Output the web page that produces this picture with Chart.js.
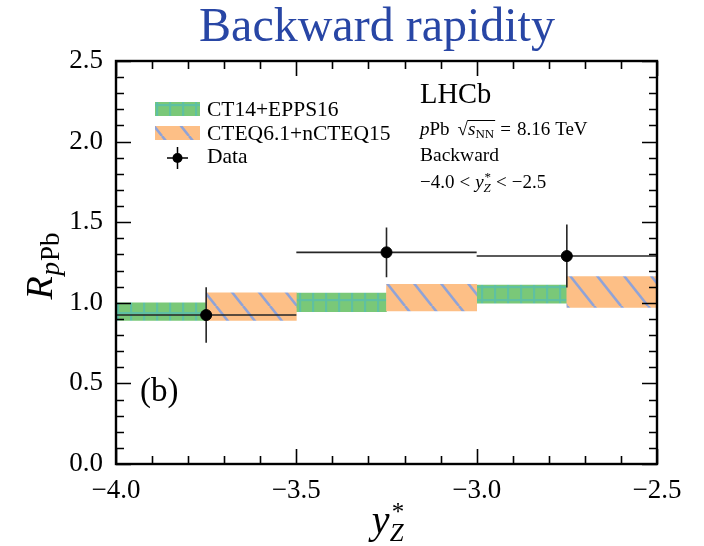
<!DOCTYPE html>
<html>
<head>
<meta charset="utf-8">
<script src="https://cdn.jsdelivr.net/npm/chart.js@4.4.1/dist/chart.umd.min.js"></script>
<style>
  html, body { margin: 0; padding: 0; background: #ffffff; }
  canvas { display: block; }
</style>
</head>
<body>
<canvas id="c" width="704" height="546"></canvas>
<script>
// ---------------- data ----------------
const xTickValues = [-4.0, -3.5, -3.0, -2.5];
const yTickValues = [0.0, 0.5, 1.0, 1.5, 2.0, 2.5];

// CT14+EPPS16 bands (first half of each bin)
const eppsX  = [-3.875, -3.375, -2.875];
const eppsLo = [0.89, 0.945, 0.997];
const eppsHi = [1.00, 1.06, 1.11];

// CTEQ6.1+nCTEQ15 bands (second half of each bin)
const ncteqX  = [-3.625, -3.125, -2.625];
const ncteqLo = [0.89, 0.95, 0.972];
const ncteqHi = [1.062, 1.115, 1.162];

// LHCb data
const dataX   = [-3.75, -3.25, -2.75];
const dataXLo = [-4.0, -3.5, -3.0];
const dataXHi = [-3.5, -3.0, -2.5];
const dataY   = [0.924, 1.313, 1.290];
const dataErr = [0.172, 0.154, 0.195];

// ---------------- styles ----------------
const SERIF = "'Liberation Serif', 'DejaVu Serif', serif";
const fnt = (size, italic) => (italic ? 'italic ' : '') + size + 'px ' + SERIF;

function makeGreenPattern() {
  const s = 13;
  const c = document.createElement('canvas');
  c.width = s; c.height = s;
  const g = c.getContext('2d');
  g.fillStyle = '#7ac878';
  g.fillRect(0, 0, s, s);
  g.fillStyle = '#5fc0a2';
  g.fillRect(0, 0, 2.2, s);
  g.fillRect(0, 0, s, 2.2);
  return g.createPattern(c, 'repeat');
}
function makeOrangePattern() {
  const w = 27, h = 34;
  const c = document.createElement('canvas');
  c.width = w; c.height = h;
  const g = c.getContext('2d');
  g.fillStyle = '#fdbf86';
  g.fillRect(0, 0, w, h);
  g.strokeStyle = '#8fa3d8';
  g.lineWidth = 2.6;
  for (const ox of [-w, 0, w]) {
    g.beginPath();
    g.moveTo(ox, 0);
    g.lineTo(ox + w, h);
    g.stroke();
  }
  return g.createPattern(c, 'repeat');
}
const greenPat = makeGreenPattern();
const orangePat = makeOrangePattern();

// ---------------- datasets ----------------
const eppsData = eppsX.map((x, i) => ({ x: x, y: [eppsLo[i], eppsHi[i]] }));
const ncteqData = ncteqX.map((x, i) => ({ x: x, y: [ncteqLo[i], ncteqHi[i]] }));
const pointData = dataX.map((x, i) => ({ x: x, y: dataY[i] }));
const errData = [];
dataX.forEach((x, i) => {
  errData.push({ x: dataXLo[i], y: dataY[i] });
  errData.push({ x: dataXHi[i], y: dataY[i] });
  errData.push({ x: dataXHi[i], y: null });
  errData.push({ x: x, y: dataY[i] - dataErr[i] });
  errData.push({ x: x, y: dataY[i] + dataErr[i] });
  errData.push({ x: x, y: null });
});

const fmt = v => (v < 0 ? '\u2212' : '') + Math.abs(v).toFixed(1);

// ---------------- text helper ----------------
function drawRuns(ctx, x, y, parts, align) {
  let total = 0;
  parts.forEach(p => {
    ctx.font = p.f;
    p.w = ctx.measureText(p.t).width + (p.dx || 0);
    if (!p.stack) total += p.w;
  });
  let cx = align === 'center' ? x - total / 2 : x;
  let prevStart = cx, prevW = 0;
  parts.forEach(p => {
    ctx.font = p.f;
    let px;
    if (p.stack) {
      px = prevStart;
      cx = prevStart + Math.max(prevW, p.w);
    } else {
      px = cx;
      prevStart = cx; prevW = p.w;
      cx += p.w;
    }
    ctx.fillText(p.t, px + (p.dx || 0), y + (p.dy || 0));
    p.x = px;
  });
  return parts;
}

// ---------------- decoration plugin ----------------
const decor = {
  id: 'decor',
  afterDraw(chart) {
    const ctx = chart.ctx;
    const xs = chart.scales.x, ys = chart.scales.y;
    const L = chart.chartArea.left, R = chart.chartArea.right;
    const T = chart.chartArea.top, B = chart.chartArea.bottom;
    ctx.save();

    // ticks (inward on all four sides)
    ctx.strokeStyle = '#000';
    ctx.lineWidth = 1.6;
    for (let k = 0; k <= 25; k++) {
      const v = k / 10;
      const py = Math.round(ys.getPixelForValue(v)) + 0.5;
      const len = (k % 5 === 0) ? 15 : 8;
      ctx.beginPath();
      ctx.moveTo(L, py); ctx.lineTo(L + len, py);
      ctx.moveTo(R, py); ctx.lineTo(R - len, py);
      ctx.stroke();
    }
    for (let k = -40; k <= -25; k++) {
      const v = k / 10;
      const px = Math.round(xs.getPixelForValue(v)) + 0.5;
      const len = (k % 5 === 0) ? 15 : 8;
      ctx.beginPath();
      ctx.moveTo(px, B); ctx.lineTo(px, B - len);
      ctx.moveTo(px, T); ctx.lineTo(px, T + len);
      ctx.stroke();
    }
    // frame
    ctx.lineWidth = 2.4;
    ctx.strokeRect(L, T, R - L, B - T);

    ctx.fillStyle = '#000';
    ctx.textBaseline = 'alphabetic';
    ctx.textAlign = 'left';

    // title
    ctx.fillStyle = '#2846a5';
    ctx.font = fnt(48);
    ctx.textAlign = 'center';
    ctx.fillText('Backward rapidity', 377, 41);
    ctx.textAlign = 'left';
    ctx.fillStyle = '#000';

    // y-axis title
    ctx.save();
    ctx.translate(52, 266);
    ctx.rotate(-Math.PI / 2);
    drawRuns(ctx, 0, 0, [
      { t: 'R', f: fnt(38, true) },
      { t: 'p', f: fnt(27, true), dy: 7, dx: 1 },
      { t: 'Pb', f: fnt(27), dy: 7, dx: 1 }
    ], 'center');
    ctx.restore();

    // x-axis title
    drawRuns(ctx, 388, 533, [
      { t: 'y', f: fnt(40, true) },
      { t: '*', f: fnt(25), dy: -13, dx: 2 },
      { t: 'Z', f: fnt(25, true), dy: 8, stack: true }
    ], 'center');

    // experiment labels
    ctx.font = fnt(28.5);
    ctx.fillText('LHCb', 420, 103);
    const p2 = drawRuns(ctx, 420, 135, [
      { t: 'p', f: fnt(19, true) },
      { t: 'Pb', f: fnt(19) },
      { t: '\u221A', f: fnt(19), dx: 8 },
      { t: 's', f: fnt(19, true) },
      { t: 'NN', f: fnt(13), dy: 3 },
      { t: '=', f: fnt(19), dx: 6 },
      { t: '8.16', f: fnt(19), dx: 6 },
      { t: 'TeV', f: fnt(19), dx: 5 }
    ], 'left');
    // overline of the square root
    ctx.lineWidth = 1;
    ctx.beginPath();
    ctx.moveTo(p2[2].x + p2[2].w - 0.5, 120.5);
    ctx.lineTo(p2[4].x + p2[4].w + 1, 120.5);
    ctx.stroke();
    ctx.font = fnt(19.5);
    ctx.fillText('Backward', 420, 161);
    drawRuns(ctx, 420, 188, [
      { t: '\u22124.0', f: fnt(19) },
      { t: '<', f: fnt(19), dx: 5 },
      { t: 'y', f: fnt(19, true), dx: 5 },
      { t: '*', f: fnt(13), dy: -7, dx: 1 },
      { t: 'Z', f: fnt(13, true), dy: 4, stack: true },
      { t: '<', f: fnt(19), dx: 5 },
      { t: '\u22122.5', f: fnt(19), dx: 5 }
    ], 'left');

    // panel label
    ctx.font = fnt(33);
    ctx.fillText('(b)', 140, 401);

    // legend
    ctx.fillStyle = greenPat;
    ctx.fillRect(155, 102, 45, 14);
    ctx.fillStyle = orangePat;
    ctx.fillRect(155, 126, 45, 14);
    ctx.strokeStyle = '#000';
    ctx.lineWidth = 1.5;
    ctx.beginPath();
    ctx.moveTo(167, 158); ctx.lineTo(188, 158);
    ctx.moveTo(177.5, 147); ctx.lineTo(177.5, 169);
    ctx.stroke();
    ctx.fillStyle = '#000';
    ctx.beginPath();
    ctx.arc(177.5, 158, 5, 0, Math.PI * 2);
    ctx.fill();
    ctx.font = fnt(21.5);
    ctx.fillText('CT14+EPPS16', 207, 116);
    ctx.fillText('CTEQ6.1+nCTEQ15', 207, 140);
    ctx.fillText('Data', 207, 163);

    ctx.restore();
  }
};

// ---------------- chart ----------------
new Chart(document.getElementById('c'), {
  type: 'bar',
  data: {
    datasets: [
      {
        type: 'bar', label: 'CT14+EPPS16', data: eppsData,
        backgroundColor: greenPat, borderWidth: 0, borderSkipped: false,
        grouped: false, barPercentage: 1, categoryPercentage: 1, order: 4
      },
      {
        type: 'bar', label: 'CTEQ6.1+nCTEQ15', data: ncteqData,
        backgroundColor: orangePat, borderWidth: 0, borderSkipped: false,
        grouped: false, barPercentage: 1, categoryPercentage: 1, order: 3
      },
      {
        type: 'line', label: 'err', data: errData,
        borderColor: '#262626', borderWidth: 1.6, pointRadius: 0,
        spanGaps: false, tension: 0, fill: false, order: 2
      },
      {
        type: 'scatter', label: 'Data', data: pointData,
        backgroundColor: '#000', borderColor: '#000',
        pointRadius: 5.5, pointHoverRadius: 5.5, order: 1
      }
    ]
  },
  options: {
    responsive: false,
    animation: false,
    devicePixelRatio: 1,
    layout: { padding: { top: 61, right: 47, left: 0, bottom: 0 } },
    plugins: { legend: { display: false }, tooltip: { enabled: false }, title: { display: false } },
    scales: {
      x: {
        type: 'linear', min: -4.0, max: -2.5, offset: false,
        afterBuildTicks: s => { s.ticks = xTickValues.map(v => ({ value: v })); },
        afterFit: s => { s.height = 82; },
        grid: { display: false, drawTicks: false },
        border: { display: false },
        ticks: {
          padding: 11, maxRotation: 0, autoSkip: false, color: '#000',
          font: { family: SERIF, size: 27 }, callback: v => fmt(v)
        }
      },
      y: {
        type: 'linear', min: 0, max: 2.5,
        afterBuildTicks: s => { s.ticks = yTickValues.map(v => ({ value: v })); },
        afterFit: s => { s.width = 116; },
        grid: { display: false, drawTicks: false },
        border: { display: false },
        ticks: {
          padding: 13, color: '#000',
          font: { family: SERIF, size: 27 }, callback: v => fmt(v)
        }
      }
    }
  },
  plugins: [decor]
});
</script>
</body>
</html>
